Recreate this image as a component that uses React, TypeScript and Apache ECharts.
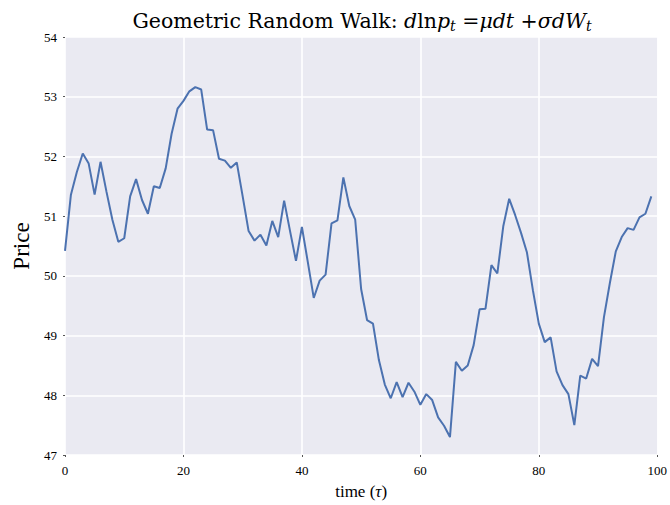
import React, { useEffect, useRef } from "react";
import * as echarts from "echarts";

const timeSteps: number[] = Array.from({ length: 100 }, (_, i) => i);
const prices: number[] = [
  50.42, 51.36, 51.74, 52.05, 51.88, 51.36, 51.91, 51.41, 50.94, 50.57,
  50.63, 51.33, 51.62, 51.27, 51.04, 51.5, 51.47, 51.8, 52.38, 52.8,
  52.93, 53.09, 53.16, 53.12, 52.45, 52.44, 51.96, 51.93, 51.81, 51.9,
  51.33, 50.75, 50.59, 50.69, 50.51, 50.92, 50.65, 51.26, 50.75, 50.25,
  50.82, 50.23, 49.63, 49.92, 50.02, 50.88, 50.93, 51.65, 51.17, 50.94,
  49.78, 49.26, 49.2, 48.59, 48.18, 47.95, 48.22, 47.97, 48.21, 48.06,
  47.84, 48.02, 47.92, 47.63, 47.49, 47.3, 48.56, 48.41, 48.5, 48.84,
  49.44, 49.45, 50.18, 50.04, 50.83, 51.29, 51.02, 50.72, 50.39, 49.76,
  49.2, 48.89, 48.97, 48.4, 48.17, 48.02, 47.5, 48.33, 48.28, 48.61,
  48.49, 49.31, 49.88, 50.41, 50.65, 50.8, 50.77, 50.98, 51.04, 51.33,
];
const xTicks = [0, 20, 40, 60, 80, 100];
const yTicks = [47, 48, 49, 50, 51, 52, 53, 54];

const SERIF = "'Liberation Serif', 'DejaVu Serif', serif";
const TSERIF = "'DejaVu Serif', 'Liberation Serif', serif";

export default function App() {
  const ref = useRef<HTMLDivElement>(null);
  useEffect(() => {
    if (!ref.current) return;
    const chart = echarts.init(ref.current, undefined, { renderer: "svg" });
    chart.setOption({
      animation: false,
      backgroundColor: "#ffffff",
      textStyle: { fontFamily: SERIF },
      title: {
        text: "Geometric Random Walk: {it|d}{up|ln}{it|p}{sub|t}{up| =}{it|μdt}{up| +}{it|σdW}{sub|t}",
        left: 357,
        textAlign: "center",
        top: 4,
        textStyle: {
          fontFamily: TSERIF,
          fontSize: 20.5,
          fontWeight: "normal",
          color: "#000",
          rich: {
            it: { fontFamily: TSERIF, fontSize: 20.5, fontStyle: "italic", color: "#000" },
            up: { fontFamily: TSERIF, fontSize: 20.5, color: "#000" },
            sub: { fontFamily: TSERIF, fontSize: 14, fontStyle: "italic", color: "#000", padding: [10, 0, 0, 0] },
          },
        },
      },
      grid: { left: 65, top: 37, width: 597, height: 423, show: true, backgroundColor: "#EAEAF2", borderWidth: 0 },
      xAxis: {
        type: "value",
        min: 0,
        max: 100,
        interval: 20,
        name: "time ({it|τ})",
        nameLocation: "middle",
        nameGap: 28,
        nameTextStyle: {
          fontFamily: SERIF,
          fontSize: 17,
          color: "#000",
          rich: { it: { fontFamily: SERIF, fontSize: 17, fontStyle: "italic", color: "#000" } },
        },
        axisLine: { show: false },
        axisTick: { show: true, length: 2, lineStyle: { color: "#555" } },
        axisLabel: {
          fontFamily: SERIF,
          fontSize: 13,
          color: "#000",
          margin: 9,
          formatter: (v: number) => (xTicks.includes(v) ? String(v) : ""),
        },
        splitLine: { show: true, lineStyle: { color: "#ffffff", width: 1.6 } },
      },
      yAxis: {
        type: "value",
        min: 47,
        max: 54,
        interval: 1,
        name: "Price",
        nameLocation: "middle",
        nameGap: 30,
        nameRotate: 90,
        nameTextStyle: { fontFamily: SERIF, fontSize: 23, color: "#000" },
        axisLine: { show: false },
        axisTick: { show: true, length: 2, lineStyle: { color: "#555" } },
        axisLabel: {
          fontFamily: SERIF,
          fontSize: 13,
          color: "#000",
          margin: 8,
          formatter: (v: number) => (yTicks.includes(v) ? String(v) : ""),
        },
        splitLine: { show: true, lineStyle: { color: "#ffffff", width: 1.6 } },
      },
      series: [
        {
          type: "line",
          data: timeSteps.map((t, i) => [t, prices[i]]),
          showSymbol: false,
          symbol: "none",
          lineStyle: { color: "#4C72B0", width: 2 },
          itemStyle: { color: "#4C72B0" },
        },
      ],
    });
    return () => chart.dispose();
  }, []);
  return (
    <div
      ref={ref}
      style={{ position: "absolute", left: 0, top: 0, width: 670, height: 505 }}
    />
  );
}
